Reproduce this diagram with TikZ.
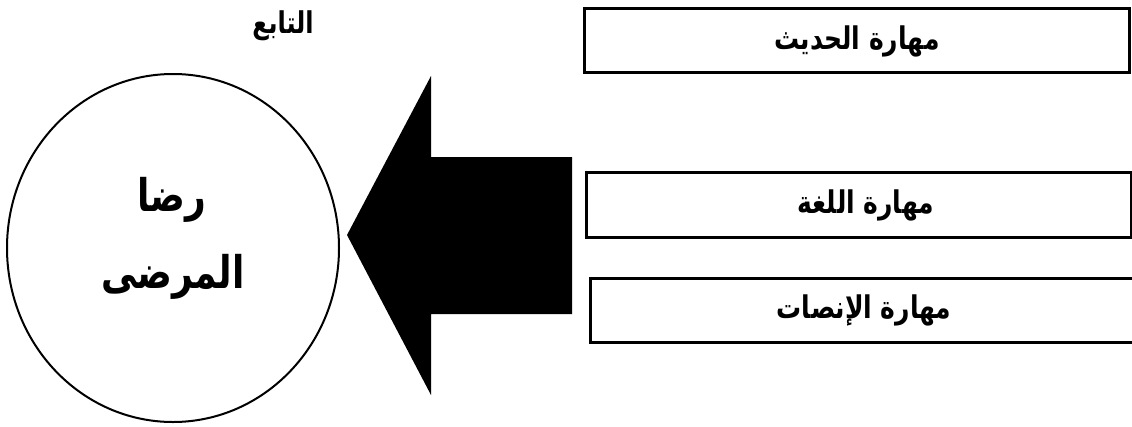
\documentclass[tikz,border=0pt]{standalone}
\usepackage{fontspec}
\TeXXeTstate=1
\newfontfamily\arabicfont[Script=Arabic]{DejaVu Sans}
\usetikzlibrary{positioning}
\newcommand{\tallar}[1]{\scalebox{1}[1.25]{\beginR #1\endR}}
\tikzset{
  skillbox/.style={draw=black, line width=3pt, fill=white},
  artext/.style={font=\arabicfont\bfseries\fontsize{25}{30}\selectfont, inner sep=0pt},
  toptext/.style={font=\arabicfont\bfseries\fontsize{24}{29}\selectfont, inner sep=0pt},
  bigtext/.style={font=\arabicfont\bfseries\fontsize{36}{42}\selectfont, inner sep=0pt, align=center},
}
\begin{document}
\begin{tikzpicture}[x=1pt,y=-1pt]
\useasboundingbox (0,0) rectangle (1132,426);
% ellipse
\draw[line width=2pt] (173,248) ellipse [x radius=166, y radius=174];
\node[bigtext] (radha) at (172,200) {\tallar{رضا}};
\node[bigtext] (mardha) at (173,277) {\tallar{المرضى}};
% top label
\node[toptext] (tabe) at (283,26) {\tallar{التابع}};
% big arrow
\fill[black] (347,235) -- (431,76) -- (431,157) -- (572,157) -- (572,314) -- (431,314) -- (431,395) -- cycle;
% boxes
\draw[skillbox] (584,8) rectangle (1129,72);
\node[artext] (hadith) at (857,41) {\tallar{مهارة الحديث}};
\draw[skillbox] (586,172) rectangle (1131,237);
\node[artext] (lugha) at (866,205) {\tallar{مهارة اللغة}};
\draw[skillbox] (590,278) rectangle (1145,342);
\node[artext] (insat) at (864,310) {\tallar{مهارة الإنصات}};
\end{tikzpicture}
\end{document}
